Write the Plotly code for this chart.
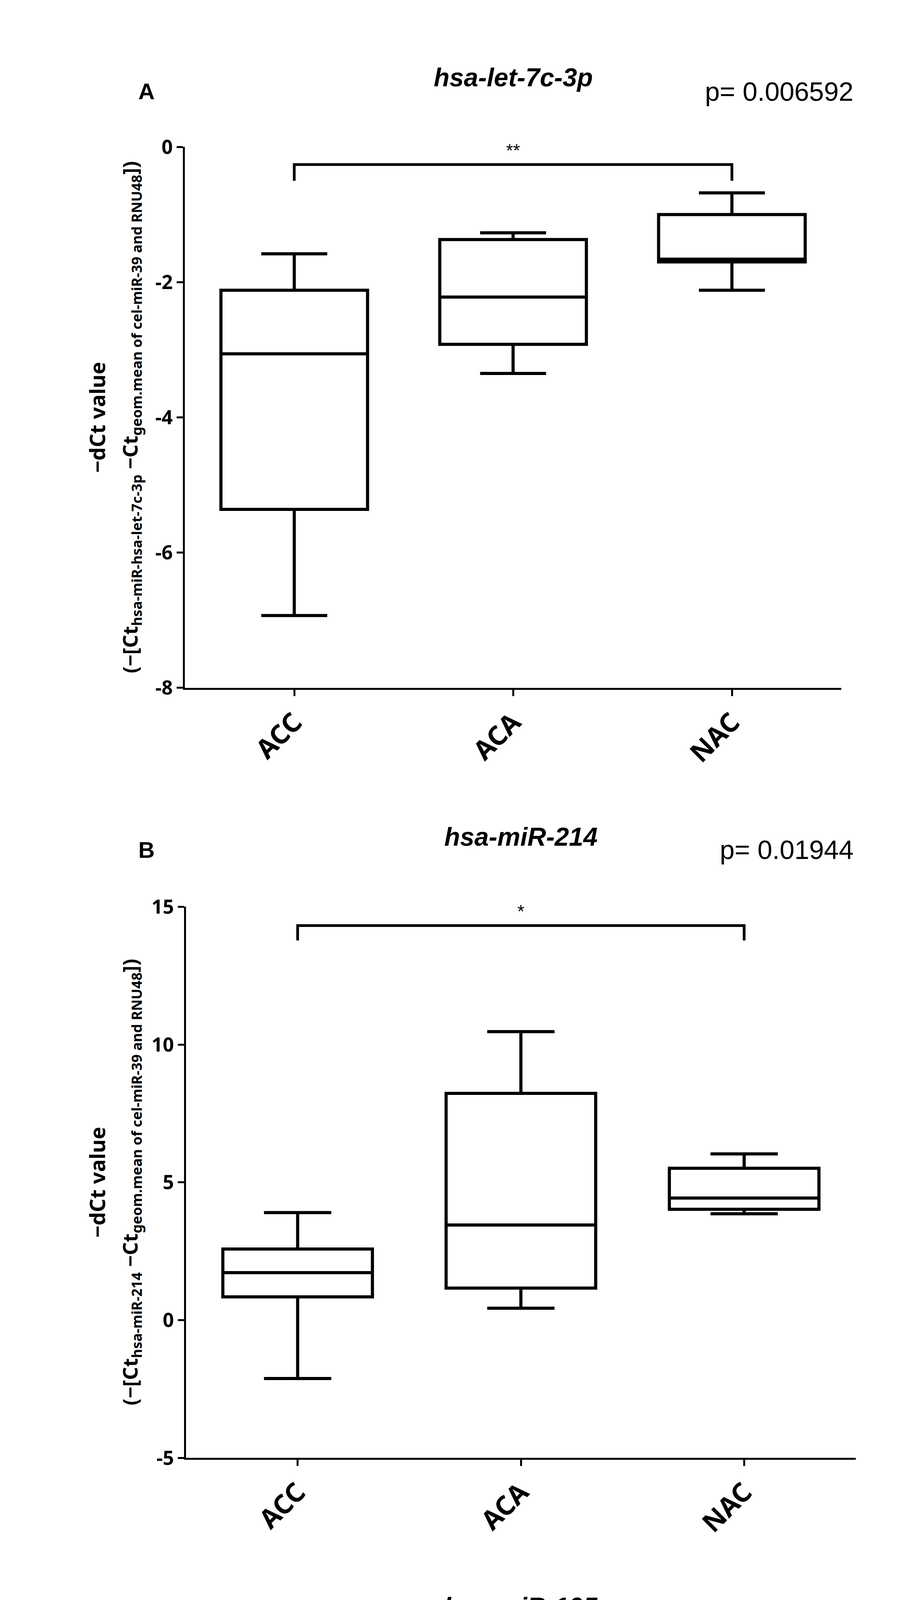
import plotly.graph_objects as go

categories = ["ACC", "ACA", "NAC"]
titles = ["hsa-let-7c-3p", "hsa-miR-214", "hsa-miR-195"]
letters = ["A", "B", "C"]
pvalues = ["p= 0.006592", "p= 0.01944", "p= 0.01961"]
subs = ["hsa-miR-hsa-let-7c-3p", "hsa-miR-214", "hsa-miR-195"]

A_lower = [-6.93, -3.35, -2.12]
A_q1 = [-5.36, -2.92, -1.70]
A_med = [-3.06, -2.22, -1.66]
A_q3 = [-2.12, -1.37, -1.00]
A_upper = [-1.58, -1.27, -0.68]

B_lower = [-2.12, 0.43, 3.86]
B_q1 = [0.84, 1.16, 4.02]
B_med = [1.72, 3.45, 4.43]
B_q3 = [2.58, 8.23, 5.51]
B_upper = [3.90, 10.47, 6.03]

C_lower = [-1.59, 3.57, 3.15]
C_q1 = [1.33, 3.78, 4.31]
C_med = [2.87, 5.05, 5.37]
C_q3 = [4.82, 10.66, 5.86]
C_upper = [5.92, 13.46, 7.64]

A_ticks = [0, -2, -4, -6, -8]
A_ticklabels = ["0", "-2", "-4", "-6", "-8"]
BC_ticks = [15, 10, 5, 0, -5]
BC_ticklabels = ["15", "10", "5", "0", "-5"]

y_ranges = [[-8, 0], [-5, 15], [-5, 15]]
tick_sets = [(A_ticks, A_ticklabels), (BC_ticks, BC_ticklabels), (BC_ticks, BC_ticklabels)]
brackets = [(0, 2, -0.26, -0.5, "**"), (0, 2, 14.32, 13.78, "*"), (0, 1, 14.36, 13.8, "*")]
stats = [(A_lower, A_q1, A_med, A_q3, A_upper),
         (B_lower, B_q1, B_med, B_q3, B_upper),
         (C_lower, C_q1, C_med, C_q3, C_upper)]

W, H = 2339, 5988
xdom = [[465 / W, 2145 / W], [468 / W, 2182 / W], [468 / W, 2182 / W]]
ypx = [(336, 1737), (2304, 3731), (4292, 5644)]
title_y = [156, 2122, 4116]
letter_y = [192, 2156, 4155]
title_x = [1305, 1325, 1325]

fig = go.Figure()
for i in range(3):
    lo, q1, md, q3, up = stats[i]
    xa = "x" if i == 0 else f"x{i+1}"
    ya = "y" if i == 0 else f"y{i+1}"
    fig.add_trace(go.Box(
        x=[0, 1, 2], lowerfence=lo, q1=q1, median=md, q3=q3, upperfence=up,
        width=0.67, whiskerwidth=0.45, fillcolor="white",
        line=dict(color="black", width=8), boxpoints=False,
        xaxis=xa, yaxis=ya, showlegend=False, hoverinfo="skip"))
    top, bot = ypx[i]
    dom = [1 - bot / H, 1 - top / H]
    axis_common = dict(showline=True, linecolor="black", linewidth=5, ticks="outside",
                       ticklen=16, tickwidth=5, tickcolor="black", showgrid=False,
                       zeroline=False)
    fig.layout[f"xaxis{'' if i == 0 else i+1}"] = dict(
        domain=xdom[i], range=[-0.5, 2.5], tickvals=[0, 1, 2], ticktext=categories,
        tickangle=-45, anchor=ya,
        tickfont=dict(family="Noto Sans", size=68, color="black", weight="bold"),
        **axis_common)
    tv, tt = tick_sets[i]
    fig.layout[f"yaxis{'' if i == 0 else i+1}"] = dict(
        domain=dom, range=y_ranges[i], tickvals=tv, ticktext=tt, anchor=xa,
        tickfont=dict(family="Noto Sans", size=50, color="black", weight="bold"),
        **axis_common)
    x0, x1, yb, ye, star = brackets[i]
    fig.add_shape(type="path",
                  path=f"M {x0} {ye} L {x0} {yb} L {x1} {yb} L {x1} {ye}",
                  xref=xa, yref=ya, line=dict(color="black", width=7))
    fig.add_annotation(x=(x0 + x1) / 2, y=yb, xref=xa, yref=ya, text=star,
                       showarrow=False, yanchor="bottom", yshift=8,
                       font=dict(family="Liberation Sans", size=46, color="black"))
    fig.add_annotation(x=title_x[i] / W, y=1 - title_y[i] / H, xref="paper", yref="paper",
                       text=f"<b><i>{titles[i]}</i></b>", showarrow=False,
                       xanchor="center", yanchor="middle",
                       font=dict(family="Liberation Sans", size=66, color="black"))
    fig.add_annotation(x=367 / W, y=1 - letter_y[i] / H, xref="paper", yref="paper",
                       text=f"<b>{letters[i]}</b>", showarrow=False,
                       xanchor="center", yanchor="middle",
                       font=dict(family="Liberation Sans", size=58, color="black"))
    fig.add_annotation(x=2178 / W, y=1 - letter_y[i] / H, xref="paper", yref="paper",
                       text=pvalues[i], showarrow=False, xanchor="right", yanchor="middle",
                       font=dict(family="Liberation Sans", size=68, color="black"))
    ymid = 1 - (top + bot) / 2 / H
    fig.add_annotation(x=240 / W, y=ymid, xref="paper", yref="paper", textangle=-90,
                       xanchor="center", yanchor="middle",
                       text="<b>−dCt value</b>", showarrow=False,
                       font=dict(family="Noto Sans", size=54, color="black"))
    fig.add_annotation(x=327 / W, y=ymid, xref="paper", yref="paper", textangle=-90,
                       xanchor="center", yanchor="middle",
                       text=f"<b>(−[Ct<sub>{subs[i]}</sub> −Ct<sub>geom.mean of cel-miR-39 and RNU48</sub>])</b>",
                       showarrow=False,
                       font=dict(family="Noto Sans", size=52, color="black"))

fig.update_layout(width=W, height=H, margin=dict(l=0, r=0, t=0, b=0),
                  paper_bgcolor="white", plot_bgcolor="white")
fig.write_html("out.html")
